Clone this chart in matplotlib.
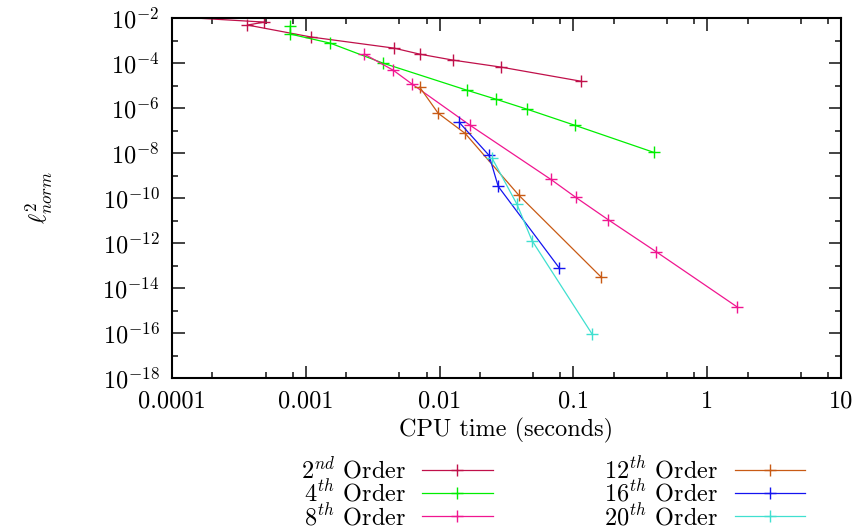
import numpy as np
import matplotlib
matplotlib.use("Agg")
import matplotlib.pyplot as plt

plt.rcParams['mathtext.fontset'] = 'cm'
plt.rcParams['font.family'] = ['cmr10', 'DejaVu Serif']
plt.rcParams['axes.unicode_minus'] = False
plt.rcParams['axes.formatter.use_mathtext'] = True

# CPU time (s) and l2 error for each order
t_2 = [9.0e-5, 4.9e-4, 3.66e-4, 1.10e-3, 4.57e-3, 7.1e-3, 0.0126, 0.0288, 0.1137]
e_2 = [1.2e-2, 6.6e-3, 4.9e-3, 1.43e-3, 4.6e-4, 2.49e-4, 1.35e-4, 6.6e-5, 1.56e-5]

t_4 = [7.66e-4, 7.66e-4, 1.52e-3, 3.78e-3, 0.0160, 0.0264, 0.0450, 0.1026, 0.399]
e_4 = [4.4e-3, 1.94e-3, 7.7e-4, 9.9e-5, 6.2e-6, 2.47e-6, 8.9e-7, 1.71e-7, 1.07e-8]

t_8 = [2.74e-3, 4.5e-3, 6.24e-3, 0.0169, 0.0679, 0.1044, 0.181, 0.413, 1.66]
e_8 = [2.49e-4, 4.8e-5, 1.15e-5, 1.71e-7, 6.7e-10, 1.06e-10, 1.11e-11, 4.2e-13, 1.49e-15]

t_12 = [7.1e-3, 9.75e-3, 0.0155, 0.0392, 0.160]
e_12 = [8.45e-6, 5.9e-7, 7.5e-8, 1.31e-10, 3.2e-14]

t_16 = [0.0140, 0.0234, 0.0274, 0.078]
e_16 = [2.33e-7, 7.9e-9, 3.3e-10, 8.1e-14]

t_20 = [0.0247, 0.0379, 0.049, 0.1374]
e_20 = [5.8e-9, 5.2e-11, 1.29e-12, 9.3e-17]

labels = [r'$2^{nd}$ Order', r'$4^{th}$ Order', r'$8^{th}$ Order',
          r'$12^{th}$ Order', r'$16^{th}$ Order', r'$20^{th}$ Order']
colors = ['#c0104a', '#00ee00', '#f01690', '#c85a14', '#1414f0', '#40e0d0']

xtick_vals = [1e-4, 1e-3, 1e-2, 1e-1, 1, 10]
xtick_labels = ['0.0001', '0.001', '0.01', '0.1', '1', '10']
ytick_exps = [-2, -4, -6, -8, -10, -12, -14, -16, -18]

fig = plt.figure(figsize=(8.6, 5.31), dpi=100)
ax = fig.add_axes([0.2, 0.288, 0.778, 0.678])

series = [(t_2, e_2), (t_4, e_4), (t_8, e_8), (t_12, e_12), (t_16, e_16), (t_20, e_20)]
for (t, e), lab, c in zip(series, labels, colors):
    ax.plot(t, e, color=c, lw=0.9, marker='+', ms=8, mew=1.0, label=lab)

ax.set_xscale('log')
ax.set_yscale('log')
ax.set_xlim(1e-4, 10)
ax.set_ylim(1e-18, 1e-2)

ax.set_xticks(xtick_vals, xtick_labels)
minor_x = [m * 10.0**k for k in range(-4, 1) for m in (2, 5, 8)]
ax.set_xticks(minor_x, minor=True)
ax.set_yticks([10.0**k for k in ytick_exps], [r'$10^{%d}$' % k for k in ytick_exps])
ax.set_yticks([10.0**k for k in range(-17, -2, 2)], minor=True)
ax.yaxis.set_minor_formatter(matplotlib.ticker.NullFormatter())
ax.xaxis.set_minor_formatter(matplotlib.ticker.NullFormatter())

ax.tick_params(which='both', direction='in', top=True, right=True, width=1.2,
               labelsize=17.5, color='#222222')
ax.tick_params(which='major', length=9, pad=9)
ax.tick_params(which='minor', length=4.5)
for s in ax.spines.values():
    s.set_linewidth(1.5)

ax.set_xlabel('CPU time (seconds)', fontsize=17.5, labelpad=4)
ax.set_ylabel(r'$\ell^2_{norm}$', fontsize=17.5, labelpad=34)

fig.legend(loc='center', bbox_to_anchor=(553 / 860, 1 - 493 / 531), ncol=2,
           frameon=False, markerfirst=False, fontsize=17.5, handlelength=2.9,
           handletextpad=0.65, labelspacing=-0.13, columnspacing=4.6, borderpad=0)

fig.savefig('out.png', dpi=100)
